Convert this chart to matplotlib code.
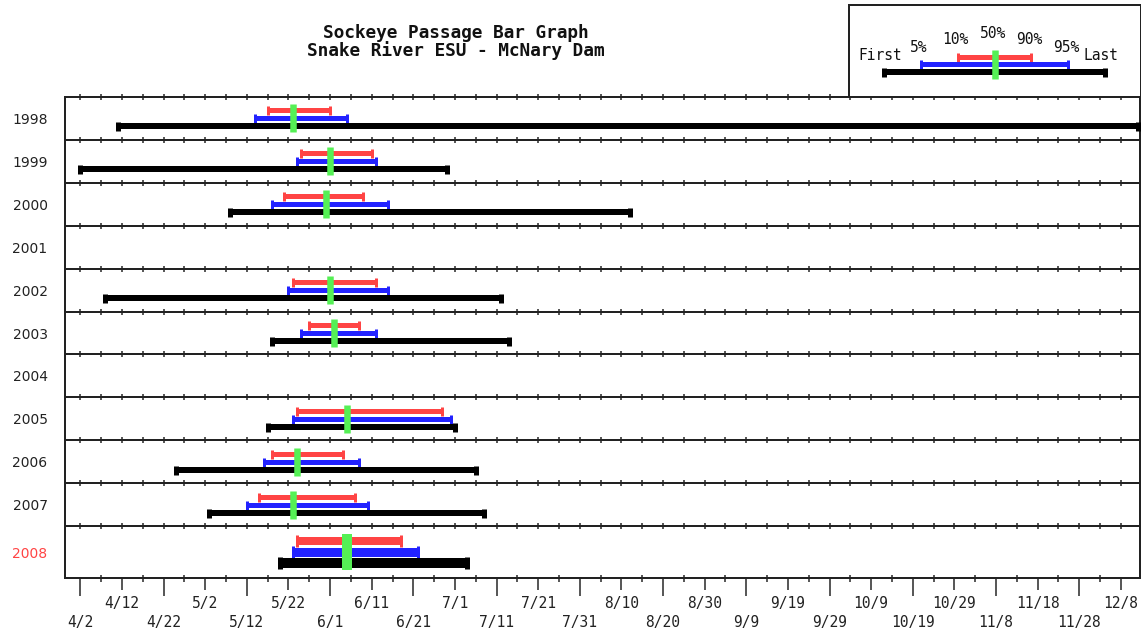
import matplotlib
matplotlib.use("Agg")
import matplotlib.pyplot as plt
import numpy as np
from datetime import date, timedelta
from matplotlib.transforms import blended_transform_factory

# ---------------- data (month/day) ----------------
years = ["1998", "1999", "2000", "2001", "2002", "2003", "2004", "2005", "2006", "2007", "2008"]
first = ["4/11", "4/2", "5/8", None, "4/8", "5/18", None, "5/17", "4/25", "5/3", "5/20"]
p5 = ["5/14", "5/24", "5/18", None, "5/22", "5/25", None, "5/23", "5/16", "5/12", "5/23"]
p10 = ["5/17", "5/25", "5/21", None, "5/23", "5/27", None, "5/24", "5/18", "5/15", "5/24"]
p50 = ["5/23", "6/1", "5/31", None, "6/1", "6/2", None, "6/5", "5/24", "5/23", "6/5"]
p90 = ["6/1", "6/11", "6/9", None, "6/12", "6/8", None, "6/28", "6/4", "6/7", "6/18"]
p95 = ["6/5", "6/12", "6/15", None, "6/15", "6/12", None, "6/30", "6/8", "6/10", "6/22"]
last = ["12/12", "6/29", "8/12", None, "7/12", "7/14", None, "7/1", "7/6", "7/8", "7/4"]
highlight_year = "2008"
start_label = "4/2"

title1 = "Sockeye Passage Bar Graph"
title2 = "Snake River ESU - McNary Dam"

RED = "#ff4444"
BLUE = "#2222ff"
GREEN = "#55f055"
BLACK = "#000000"


def doy(s):
    m, d = map(int, s.split("/"))
    return date(2001, m, d).timetuple().tm_yday


def lab(n):
    dt = date(2001, 1, 1) + timedelta(days=int(n) - 1)
    return f"{dt.month}/{dt.day}"


W, H = 1141, 628
fig = plt.figure(figsize=(W / 100, H / 100), dpi=100)
fig.patch.set_facecolor("white")

px = 72 / 100  # points per pixel

ax = fig.add_axes([65 / W, 1 - 578 / H, (1140 - 65) / W, (578 - 97) / H])
x0 = doy(start_label)
xmin, xmax = x0 - 3.7, x0 + 254.6
ax.set_xlim(xmin, xmax)

heights = [43] * (len(years) - 1) + [52]
bounds = np.concatenate([[0], np.cumsum(heights)])
ax.set_ylim(bounds[-1], 0)

for s in ax.spines.values():
    s.set_linewidth(2 * px)
    s.set_color("#222222")

# separators with small ticks
minor_pos = np.arange(x0, xmax, 5)
for yb in bounds[:-1]:
    if yb > 0:
        ax.axhline(yb, color="#222222", lw=2 * px, zorder=1)
    ax.plot(minor_pos, np.full(len(minor_pos), yb), ls="none", marker="|",
            ms=6 * px, mew=1.5 * px, color="#222222", zorder=1, clip_on=False)


# bars
def bar(axx, a, b, y, color, lw, ms, mew):
    axx.plot([a, b], [y, y], color=color, lw=lw, solid_capstyle="butt",
             marker="|", ms=ms, mew=mew, zorder=3)


ytrans = blended_transform_factory(fig.transFigure, ax.transData)
for i, yr in enumerate(years):
    yc = (bounds[i] + bounds[i + 1]) / 2
    big = yr == highlight_year
    off = 11 if big else 8
    lw_r = (8 if big else 5) * px
    lw_b = (9 if big else 5) * px
    lw_k = (10 if big else 6) * px
    ms_c = (12 if big else 9) * px
    mew_c = 3 * px
    mew_k = 5 * px
    glw = (10 if big else 6.5) * px
    gext = 7 if big else 6
    ax.text(30 / W, yc + 1.5, yr, transform=ytrans, ha="center", va="center",
            fontsize=10, color=RED if big else "#222222", family="DejaVu Sans")
    if first[i] is None:
        continue
    bar(ax, doy(p10[i]), doy(p90[i]), yc - off, RED, lw_r, ms_c, mew_c)
    bar(ax, doy(p5[i]), doy(p95[i]), yc, BLUE, lw_b, ms_c, mew_c)
    bar(ax, doy(first[i]), doy(last[i]), yc + off, BLACK, lw_k, ms_c, mew_k)
    ax.vlines(doy(p50[i]), yc - off - gext, yc + off + gext, color=GREEN,
              lw=glw, zorder=4)

# x axis ticks
ax.yaxis.set_visible(False)
major_pos = np.arange(x0, xmax, 10)
labels = []
for k, p in enumerate(major_pos):
    labels.append(("\n" + lab(p)) if k % 2 == 0 else lab(p))
ax.set_xticks(major_pos)
ax.set_xticklabels(labels, family="DejaVu Sans Mono", fontsize=10.5, linespacing=1.3)
ax.set_xticks(minor_pos, minor=True)
ax.tick_params(axis="x", which="major", length=18 * px, width=1.5 * px,
               pad=0, direction="out", colors="#222222")
ax.tick_params(axis="x", which="minor", length=7 * px, width=1.5 * px,
               direction="inout", colors="#222222")
for k, t in enumerate(ax.xaxis.get_major_ticks()):
    t.tick1line.set_markersize((18 if k % 2 == 0 else 12) * px)
for t in ax.get_xticklabels():
    t.set_verticalalignment("top")

# legend box
lax = fig.add_axes([849 / W, 1 - 97 / H, (1141 - 849) / W, (97 - 5) / H])
lax.set_xlim(849, 1141)
lax.set_ylim(97, 5)
lax.set_xticks([])
lax.set_yticks([])
for s in lax.spines.values():
    s.set_linewidth(2 * px)
    s.set_color("#222222")
bar(lax, 958, 1031, 57, RED, 5 * px, 9 * px, 3 * px)
bar(lax, 921, 1068, 64, BLUE, 5 * px, 9 * px, 3 * px)
bar(lax, 884, 1105, 72, BLACK, 6 * px, 9 * px, 5 * px)
lax.vlines(995, 50, 79, color=GREEN, lw=6.5 * px, zorder=4)
lkw = dict(family="DejaVu Sans Mono", fontsize=10.5, ha="center", va="center", color="#111111")
lax.text(880, 56, "First", **lkw)
lax.text(919, 48, "5%", **lkw)
lax.text(955, 40, "10%", **lkw)
lax.text(993, 33, "50%", **lkw)
lax.text(1029, 40, "90%", **lkw)
lax.text(1066, 48, "95%", **lkw)
lax.text(1101, 56, "Last", **lkw)

# titles
tkw = dict(family="DejaVu Sans Mono", fontsize=12.8, weight="bold", ha="center", va="center", color="#111111")
fig.text(456 / W, 1 - 33 / H, title1, **tkw)
fig.text(456 / W, 1 - 51 / H, title2, **tkw)

fig.savefig("out.png", dpi=100)
